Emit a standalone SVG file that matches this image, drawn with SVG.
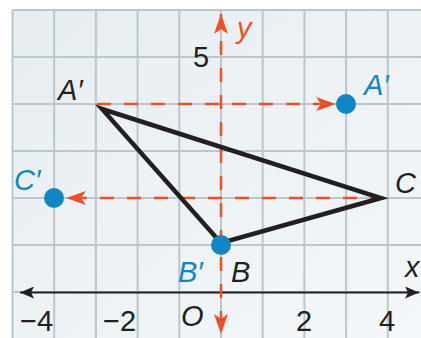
<svg xmlns="http://www.w3.org/2000/svg" width="421" height="338" viewBox="0 0 421 338">
<defs>
<linearGradient id="bg" x1="0" y1="0" x2="1" y2="1">
<stop offset="0" stop-color="#e6edf1"/>
<stop offset="1" stop-color="#f3f7f9"/>
</linearGradient>
<marker id="ra" viewBox="0 0 20 14" refX="20" refY="7" markerWidth="20" markerHeight="14" markerUnits="userSpaceOnUse" orient="auto-start-reverse">
<path d="M0,0 L20,7 L0,14 L5,7 Z" fill="#f04e23"/>
</marker>
<marker id="ka" viewBox="0 0 14 12" refX="14" refY="6" markerWidth="14" markerHeight="12" markerUnits="userSpaceOnUse" orient="auto-start-reverse">
<path d="M0,0 L14,6 L0,12 L3,6 Z" fill="#231f20"/>
</marker>
</defs>
<style>
.grid line{stroke:#bcc6cd;stroke-width:2}
.dash{stroke:#f04e23;stroke-width:2.5;stroke-dasharray:14 13;fill:none}
.lbl{font-family:"Liberation Sans",Arial,sans-serif;font-style:italic;font-size:29px;fill:#231f20}
.blue{fill:#0f86c6}
.num{font-family:"Liberation Sans",Arial,sans-serif;font-size:29px;fill:#231f20}
.dot{fill:#0f86c6}
</style>
<rect x="0" y="0" width="421" height="338" fill="#ffffff"/>
<rect x="12" y="10" width="409" height="328" fill="url(#bg)"/>
<g class="grid">
<line x1="12.5" y1="10" x2="12.5" y2="338"/>
<line x1="54.2" y1="10" x2="54.2" y2="338"/>
<line x1="95.9" y1="10" x2="95.9" y2="338"/>
<line x1="137.6" y1="10" x2="137.6" y2="338"/>
<line x1="179.3" y1="10" x2="179.3" y2="338"/>
<line x1="221" y1="10" x2="221" y2="338"/>
<line x1="262.7" y1="10" x2="262.7" y2="338"/>
<line x1="304.4" y1="10" x2="304.4" y2="338"/>
<line x1="346.1" y1="10" x2="346.1" y2="338"/>
<line x1="387.8" y1="10" x2="387.8" y2="338"/>
<line x1="12" y1="10" x2="421" y2="10"/>
<line x1="12" y1="57" x2="421" y2="57"/>
<line x1="12" y1="104" x2="421" y2="104"/>
<line x1="12" y1="151" x2="421" y2="151"/>
<line x1="12" y1="198" x2="421" y2="198"/>
<line x1="12" y1="245" x2="421" y2="245"/>
<line x1="12" y1="292" x2="421" y2="292"/>
</g>
<g id="axes">
<line x1="20" y1="292.5" x2="419" y2="292.5" stroke="#231f20" stroke-width="2.2" marker-start="url(#ka)" marker-end="url(#ka)"/>
<line x1="221" y1="14" x2="221" y2="334" class="dash" stroke-dasharray="50 7 28 10 18 10 14 12 14 12 14 12 14 12 14 12 50 200" marker-start="url(#ra)" marker-end="url(#ra)"/>
</g>
<g id="connectors">
<line x1="97" y1="104" x2="336" y2="104" class="dash" marker-end="url(#ra)"/>
<line x1="384" y1="198" x2="66" y2="198" class="dash" marker-end="url(#ra)"/>
</g>
<g id="triangle">
<polygon points="102,109 381,198 221,243" fill="none" stroke="#231f20" stroke-width="4.5" stroke-linejoin="miter"/>
</g>
<g id="point-A2"><circle cx="346" cy="104" r="10" class="dot"/></g>
<g id="point-C2"><circle cx="54" cy="198" r="10" class="dot"/></g>
<g id="point-B2"><circle cx="221" cy="245" r="10" class="dot"/></g>
<g id="labels">
<text class="lbl" x="58" y="100">A′</text>
<text class="lbl" x="395" y="193">C</text>
<text class="lbl" x="231" y="282">B</text>
<text class="lbl blue" x="364" y="95">A′</text>
<text class="lbl blue" x="14" y="190">C′</text>
<text class="lbl blue" x="178" y="282">B′</text>
<text class="lbl" x="181" y="326">O</text>
<text class="lbl" x="405" y="277">x</text>
<text class="lbl" x="237" y="38" style="fill:#f04e23">y</text>
<text class="num" x="193" y="67">5</text>
<text class="num" x="20" y="331">−4</text>
<text class="num" x="103" y="331">−2</text>
<text class="num" x="296" y="331">2</text>
<text class="num" x="379" y="331">4</text>
</g>
</svg>
